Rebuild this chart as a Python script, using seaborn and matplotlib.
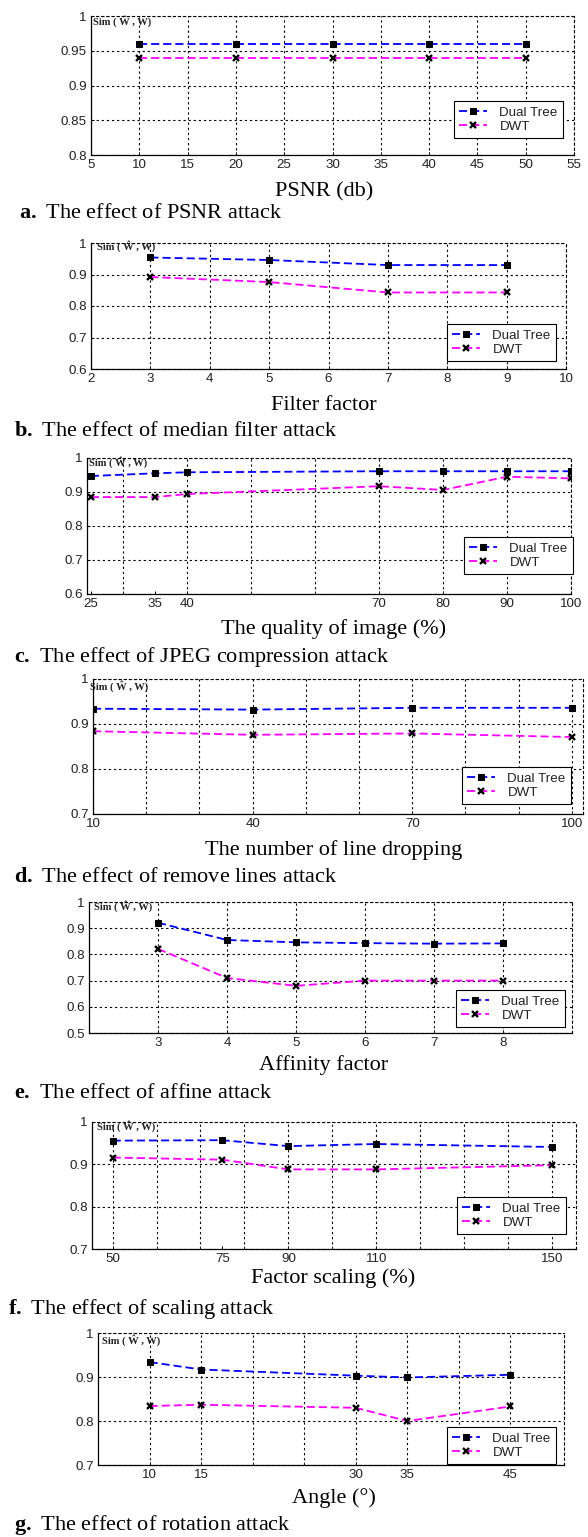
import numpy as np
import pandas as pd
import matplotlib
matplotlib.use("Agg")
import matplotlib.pyplot as plt
import seaborn as sns
from matplotlib.ticker import FixedLocator, FuncFormatter

# ---------------- data ----------------
psnr_x = [10, 20, 30, 40, 50]
psnr_dual = [0.960, 0.960, 0.960, 0.960, 0.960]
psnr_dwt = [0.940, 0.940, 0.940, 0.940, 0.940]

median_x = [3, 5, 7, 9]
median_dual = [0.954, 0.946, 0.930, 0.930]
median_dwt = [0.892, 0.876, 0.843, 0.843]

jpeg_x = [25, 35, 40, 70, 80, 90, 100]
jpeg_dual = [0.947, 0.955, 0.958, 0.961, 0.961, 0.961, 0.961]
jpeg_dwt = [0.885, 0.885, 0.894, 0.917, 0.906, 0.945, 0.940]

lines_x = [10, 40, 70, 100]
lines_dual = [0.934, 0.932, 0.936, 0.936]
lines_dwt = [0.884, 0.876, 0.879, 0.871]

affine_x = [3, 4, 5, 6, 7, 8]
affine_dual = [0.921, 0.855, 0.846, 0.843, 0.841, 0.842]
affine_dwt = [0.821, 0.710, 0.680, 0.700, 0.700, 0.700]

scaling_x = [50, 75, 90, 110, 150]
scaling_dual = [0.956, 0.957, 0.943, 0.948, 0.941]
scaling_dwt = [0.916, 0.911, 0.888, 0.888, 0.898]

rot_x = [10, 15, 30, 35, 45]
rot_dual = [0.934, 0.917, 0.903, 0.899, 0.905]
rot_dwt = [0.834, 0.837, 0.830, 0.800, 0.833]

series_names = ["Dual Tree", "DWT"]

xlabels = ["PSNR (db)", "Filter factor", "The quality of image (%)",
           "The number of line dropping", "Affinity factor",
           "Factor scaling (%)", "Angle (\u00b0)"]
caption_letters = ["a.", "b.", "c.", "d.", "e.", "f.", "g."]
caption_texts = ["The effect of PSNR attack", "The effect of median filter attack",
                 "The effect of JPEG compression attack", "The effect of remove lines attack",
                 "The effect of affine attack", "The effect of scaling attack",
                 "The effect of rotation attack"]

a_xticks = [5, 10, 15, 20, 25, 30, 35, 40, 45, 50, 55]
b_xticks = [2, 3, 4, 5, 6, 7, 8, 9, 10]
c_xticks = [25, 35, 40, 70, 80, 90, 100]
d_xticks = [10, 40, 70, 100]
e_xticks = [3, 4, 5, 6, 7, 8]
f_xticks = [50, 75, 90, 110, 150]
g_xticks = [10, 15, 30, 35, 45]

a_yticks = [0.8, 0.85, 0.9, 0.95, 1.0]
b_yticks = [0.6, 0.7, 0.8, 0.9, 1.0]
c_yticks = [0.6, 0.7, 0.8, 0.9, 1.0]
d_yticks = [0.7, 0.8, 0.9, 1.0]
e_yticks = [0.5, 0.6, 0.7, 0.8, 0.9, 1.0]
f_yticks = [0.7, 0.8, 0.9, 1.0]
g_yticks = [0.7, 0.8, 0.9, 1.0]

# ---------------- layout (pixels) ----------------
W, H = 588, 1537
sns.set_theme(style="white")
plt.rcParams["font.family"] = ["Liberation Sans", "DejaVu Sans"]
plt.rcParams["mathtext.fontset"] = "custom"
plt.rcParams["mathtext.rm"] = "Liberation Serif"
plt.rcParams["mathtext.bf"] = "Liberation Serif:bold"

fig = plt.figure(figsize=(W / 100, H / 100), dpi=100)
fig.patch.set_facecolor("white")

panels = [
    dict(x=psnr_x, d=psnr_dual, w=psnr_dwt, rect=(91, 574, 16, 155), xlim=(5, 55), ylim=(0.8, 1.0),
         xt=a_xticks, xg=a_xticks, yt=a_yticks, xl_x=324, xl_y=192, cap_y=214, cap_x=19,
         leg=(563, 101), sim=(93, 21)),
    dict(x=median_x, d=median_dual, w=median_dwt, rect=(91, 566, 243, 369), xlim=(2, 10), ylim=(0.6, 1.0),
         xt=b_xticks, xg=b_xticks, yt=b_yticks, xl_x=324, xl_y=405, cap_y=432, cap_x=14,
         leg=(556, 324), sim=(97, 246)),
    dict(x=jpeg_x, d=jpeg_dual, w=jpeg_dwt, rect=(87, 571, 458, 594), xlim=(24.4, 100), ylim=(0.6, 1.0),
         xt=c_xticks, xg=[30, 40, 50, 60, 70, 80, 90, 100], yt=c_yticks, xl_x=334, xl_y=629, cap_y=657, cap_x=14,
         leg=(573, 537), sim=(89, 462)),
    dict(x=lines_x, d=lines_dual, w=lines_dwt, rect=(93, 583, 679, 814), xlim=(10, 102.1), ylim=(0.7, 1.0),
         xt=d_xticks, xg=[10, 20, 30, 40, 50, 60, 70, 80, 90, 100], yt=d_yticks, xl_x=334, xl_y=850, cap_y=877, cap_x=14,
         leg=(571, 767), sim=(90, 686)),
    dict(x=affine_x, d=affine_dual, w=affine_dwt, rect=(89, 572, 902, 1033), xlim=(2, 9), ylim=(0.5, 1.0),
         xt=e_xticks, xg=e_xticks, yt=e_yticks, xl_x=324, xl_y=1065, cap_y=1093, cap_x=14,
         leg=(565, 990), sim=(94, 906)),
    dict(x=scaling_x, d=scaling_dual, w=scaling_dwt, rect=(92, 576, 1122, 1249), xlim=(45.3, 155.5), ylim=(0.7, 1.0),
         xt=f_xticks, xg=[50, 60, 70, 80, 90, 100, 110, 120, 130, 140, 150], yt=f_yticks, xl_x=333, xl_y=1278, cap_y=1309, cap_x=8,
         leg=(566, 1197), sim=(97, 1126)),
    dict(x=rot_x, d=rot_dual, w=rot_dwt, rect=(98, 564, 1333, 1465), xlim=(5, 50.2), ylim=(0.7, 1.0),
         xt=g_xticks, xg=[10, 15, 20, 25, 30, 35, 40, 45], yt=g_yticks, xl_x=334, xl_y=1498, cap_y=1525, cap_x=14,
         leg=(556, 1427), sim=(102, 1340)),
]

grid_kw = dict(color="black", linestyle=(0, (2.0, 2.6)), linewidth=0.8)
fmt = FuncFormatter(lambda v, p: f"{v:g}")

for i, p in enumerate(panels):
    l, r, t, b = p["rect"]
    ax = fig.add_axes([l / W, 1 - b / H, (r - l) / W, (b - t) / H])
    ax.set_facecolor("white")
    df = pd.DataFrame({"x": p["x"], series_names[0]: p["d"], series_names[1]: p["w"]})
    sns.lineplot(data=df, x="x", y=series_names[0], ax=ax, color="#0000ff",
                 linestyle=(0, (4.5, 2.2)), linewidth=1.3, marker="s", markersize=4.4,
                 markerfacecolor="black", markeredgecolor="black", label=series_names[0])
    sns.lineplot(data=df, x="x", y=series_names[1], ax=ax, color="#ff00ff",
                 linestyle=(0, (4.5, 2.2)), linewidth=1.3, marker="x", markersize=4.8,
                 markeredgewidth=1.7, markerfacecolor="black", markeredgecolor="black",
                 label=series_names[1])
    ax.set_xlim(*p["xlim"])
    ax.set_ylim(*p["ylim"])
    ax.xaxis.remove_overlapping_locs = False
    ax.xaxis.set_major_locator(FixedLocator(p["xt"]))
    ax.xaxis.set_minor_locator(FixedLocator(p["xg"]))
    ax.yaxis.set_major_locator(FixedLocator(p["yt"]))
    ax.xaxis.set_major_formatter(fmt)
    ax.yaxis.set_major_formatter(fmt)
    ax.grid(False)
    ax.grid(True, which="minor", axis="x", **grid_kw)
    ax.grid(True, which="major", axis="y", **grid_kw)
    ax.set_axisbelow(True)
    ax.tick_params(axis="both", which="major", direction="in", length=2.5, width=0.7,
                   labelsize=9.6, labelcolor="#222222", pad=3, color="black",
                   bottom=True, left=True, top=False, right=False)
    ax.tick_params(axis="x", which="minor", direction="in", length=2.5, width=0.7,
                   bottom=True, top=False)
    for lab in ax.get_xticklabels() + ax.get_yticklabels():
        lab.set_fontfamily(["Liberation Sans", "DejaVu Sans"])
    for s in ["left", "bottom"]:
        ax.spines[s].set_color("black")
        ax.spines[s].set_linewidth(0.9)
    for s in ["top", "right"]:
        ax.spines[s].set_color("black")
        ax.spines[s].set_linewidth(0.8)
        ax.spines[s].set_linestyle((0, (2.0, 2.6)))
    ax.set_xlabel("")
    ax.set_ylabel("")
    lx, ly = p["leg"]
    leg = ax.legend(loc="upper right", bbox_to_anchor=(lx / W, 1 - ly / H),
                    bbox_transform=fig.transFigure, frameon=True, fancybox=False,
                    edgecolor="black", framealpha=1, borderpad=0.4, labelspacing=0.15,
                    handlelength=2.1, handletextpad=0.9, borderaxespad=0,
                    prop={"family": "Liberation Sans", "size": 9.6})
    leg.get_frame().set_linewidth(0.8)
    for txt in leg.get_texts():
        txt.set_color("#222222")
    sx, sy = p["sim"]
    fig.text(sx / W, 1 - sy / H, "Sim ( \u0174 , W)", fontsize=7.6, fontweight="bold",
             family="Liberation Serif", ha="left", va="center", color="#222222")
    fig.text(p["xl_x"] / W, 1 - p["xl_y"] / H, xlabels[i], fontsize=16, family="Liberation Serif",
             ha="center", va="center", color="black")
    fig.text(p["cap_x"] / W, 1 - p["cap_y"] / H,
             r"$\mathbf{" + caption_letters[i] + r"}$ " + caption_texts[i],
             fontsize=16, family="Liberation Serif", ha="left", va="center", color="black")

fig.savefig("out.png", dpi=100, facecolor="white")
